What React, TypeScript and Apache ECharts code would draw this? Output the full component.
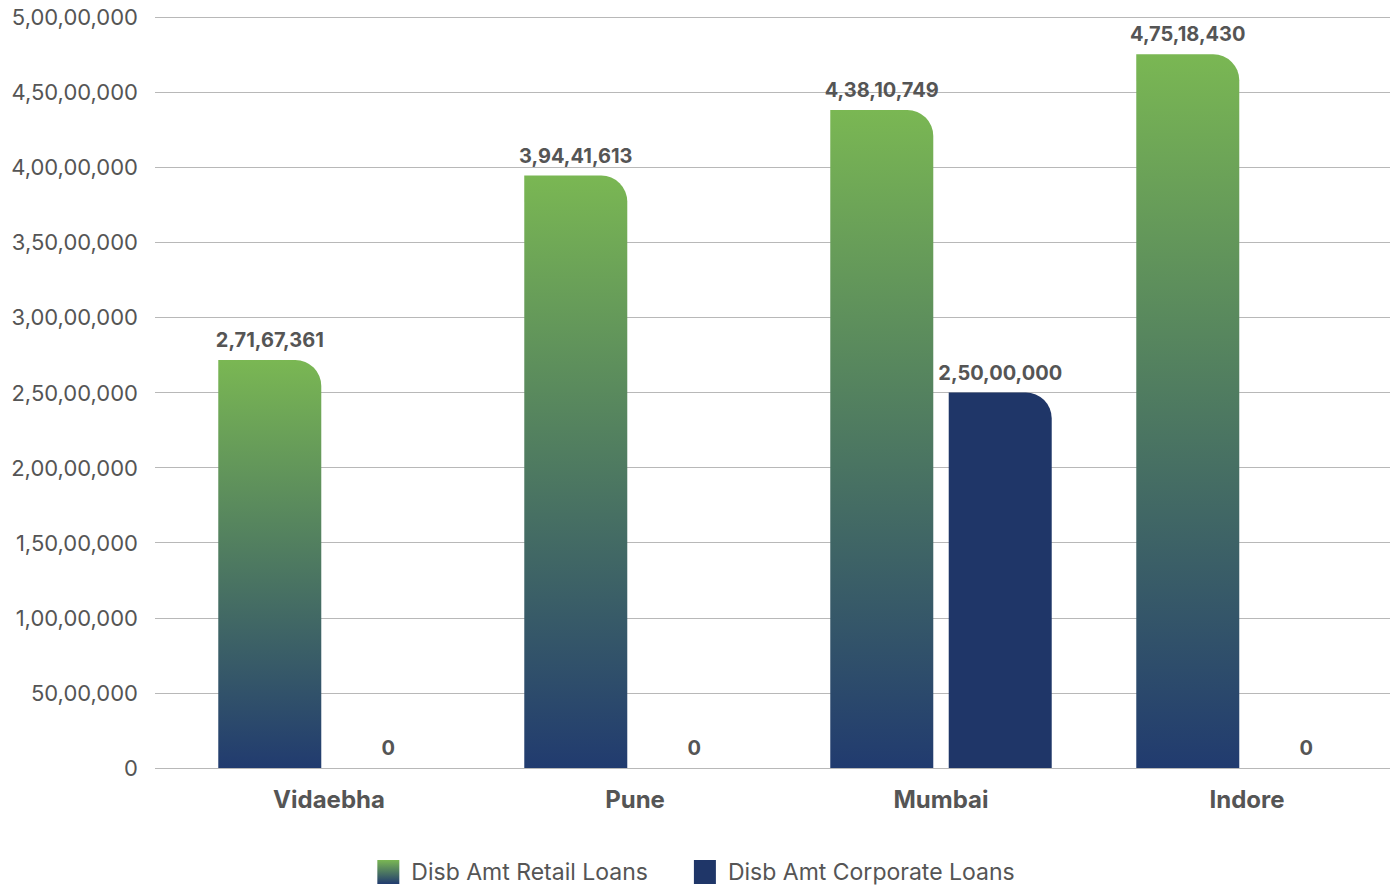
import React, { useEffect, useRef } from "react";
import * as echarts from "echarts";

const categories = ["Vidaebha", "Pune", "Mumbai", "Indore"];
const retailLoans = [27167361, 39441613, 43810749, 47518430];
const corporateLoans = [0, 0, 25000000, 0];
const seriesNames = ["Disb Amt Retail Loans", "Disb Amt Corporate Loans"];

const Y_MIN = 0;
const Y_MAX = 50000000;
const Y_STEP = 5000000;

function indian(v: number): string {
  const s = Math.round(v).toString();
  if (s.length <= 3) return s;
  const last3 = s.slice(-3);
  let rest = s.slice(0, -3);
  const parts: string[] = [];
  while (rest.length > 2) {
    parts.unshift(rest.slice(-2));
    rest = rest.slice(0, -2);
  }
  if (rest.length) parts.unshift(rest);
  return parts.join(",") + "," + last3;
}

const FONT = "Inter, 'Noto Sans', sans-serif";
const TEXT = "#555555";

export default function App() {
  const ref = useRef<HTMLDivElement>(null);
  useEffect(() => {
    if (!ref.current) return;
    const chart = echarts.init(ref.current, null, { renderer: "svg" });
    const retailGradient = new echarts.graphic.LinearGradient(0, 0, 0, 1, [
      { offset: 0, color: "#7ab753" },
      { offset: 1, color: "#213b6f" },
    ]);
    const valueLabel = {
      show: true,
      position: "top",
      distance: 10,
      fontSize: 20,
      fontWeight: "bold",
      color: TEXT,
      fontFamily: FONT,
      formatter: (p: any) => indian(p.value),
    };
    chart.setOption({
      animation: false,
      backgroundColor: "#ffffff",
      textStyle: { fontFamily: FONT },
      legend: {
        bottom: -3,
        left: "center",
        itemWidth: 22,
        itemHeight: 24,
        itemGap: 46,
        icon: "rect",
        textStyle: {
          fontSize: 23,
          color: TEXT,
          fontFamily: FONT,
          padding: [0, 0, 0, 7],
        },
        data: seriesNames,
      },
      grid: [
        { left: 155, right: 2, top: 17, bottom: 118 },
        { left: 329, right: 145, top: 17, bottom: 118 },
      ],
      xAxis: [
        { type: "value", gridIndex: 0, show: false, min: 0, max: 1 },
        {
          type: "category",
          gridIndex: 1,
          data: categories,
          boundaryGap: false,
          axisLine: { show: false },
          axisTick: { show: false },
          axisLabel: {
            margin: 19,
            fontSize: 24,
            fontWeight: "bold",
            color: TEXT,
            fontFamily: FONT,
          },
        },
      ],
      yAxis: [
        {
          type: "value",
          gridIndex: 0,
          min: Y_MIN,
          max: Y_MAX,
          interval: Y_STEP,
          axisLine: { show: false },
          axisTick: { show: false },
          axisLabel: {
            margin: 17,
            fontSize: 22,
            color: TEXT,
            fontFamily: FONT,
            formatter: (v: number) => indian(v),
          },
          splitLine: { lineStyle: { color: "#b8b8b8", width: 1.2 } },
        },
        {
          type: "value",
          gridIndex: 1,
          min: Y_MIN,
          max: Y_MAX,
          interval: Y_STEP,
          show: false,
          splitLine: { show: false },
        },
      ],
      series: [
        {
          name: seriesNames[0],
          type: "bar",
          xAxisIndex: 1,
          yAxisIndex: 1,
          data: retailLoans,
          barWidth: 103,
          barGap: "15%",
          clip: false,
          itemStyle: { color: retailGradient, borderRadius: [0, 26, 0, 0] },
          label: valueLabel,
        },
        {
          name: seriesNames[1],
          type: "bar",
          xAxisIndex: 1,
          yAxisIndex: 1,
          data: corporateLoans,
          barWidth: 103,
          barGap: "15%",
          clip: false,
          itemStyle: { color: "#1f3668", borderRadius: [0, 26, 0, 0] },
          label: valueLabel,
        },
      ],
    });
    return () => chart.dispose();
  }, []);
  return (
    <div
      ref={ref}
      style={{ position: "fixed", left: 0, top: 0, width: 1392, height: 886 }}
    />
  );
}
